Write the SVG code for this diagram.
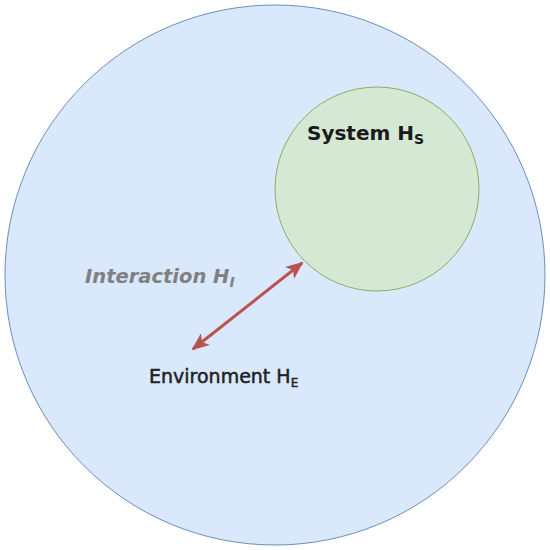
<svg xmlns="http://www.w3.org/2000/svg" width="550" height="550" viewBox="0 0 550 550">
<defs>
<style>
.env{fill:#dae8fc;stroke:#6c8ebf;stroke-width:1}
.sys{fill:#d5e8d4;stroke:#82b366;stroke-width:1}
.lbl{font-family:"DejaVu Sans",Verdana,sans-serif;fill:#1a1a1a}
.conn{stroke:#b85450;stroke-width:3;fill:none}
</style>
<marker id="ah" viewBox="0 0 18 15" refX="16" refY="7.5" markerWidth="18" markerHeight="15" markerUnits="userSpaceOnUse" orient="auto-start-reverse">
<path d="M0,0 L18,7.5 L0,15 L4.5,7.5 Z" fill="#b85450"/>
</marker>
</defs>
<rect width="550" height="550" fill="#ffffff"/>
<g id="environment">
<circle class="env" cx="275" cy="275" r="270"/>
<text class="lbl" x="149" y="383" font-size="19" style="fill:#222222;stroke:#222222;stroke-width:0.5">Environment H<tspan font-size="12" dy="4">E</tspan></text>
</g>
<g id="system">
<circle class="sys" cx="377" cy="189" r="102"/>
<text class="lbl" x="307" y="140" font-size="20" font-weight="bold">System H<tspan font-size="14" dy="4">S</tspan></text>
</g>
<g id="interaction-label">
<text class="lbl" x="85" y="283" font-size="19.5" font-weight="bold" font-style="italic" style="fill:#808080">Interaction H<tspan font-size="14" dy="4">I</tspan></text>
</g>
<g id="connectors">
<line class="conn" x1="193" y1="349" x2="302" y2="263" marker-start="url(#ah)" marker-end="url(#ah)"/>
</g>
</svg>
